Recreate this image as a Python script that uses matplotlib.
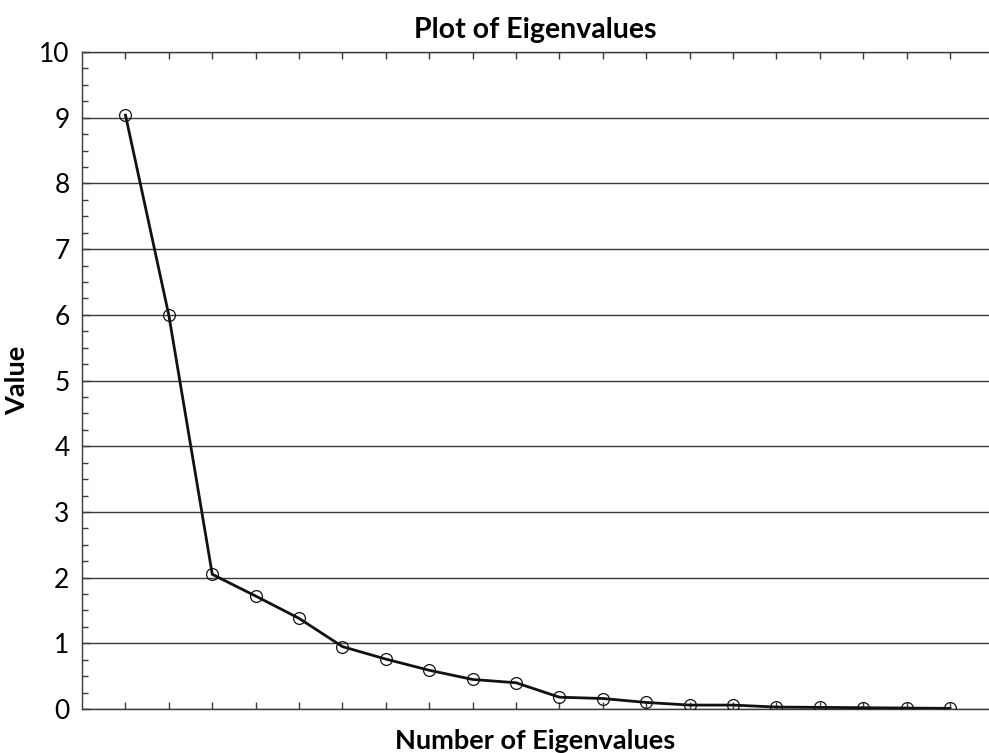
"""
Scree plot: eigenvalues in descending order
"""

import matplotlib.pyplot as plt
import numpy as np

plt.rcParams['font.family'] = ['Lato', 'DejaVu Sans']

# eigenvalue number and value
eig_num = list(range(1, 21))
eig_val = [9.04, 5.99, 2.05, 1.72, 1.38, 0.95, 0.76, 0.59, 0.45, 0.40,
           0.18, 0.16, 0.10, 0.06, 0.06, 0.03, 0.025, 0.02, 0.015, 0.01]
y_ticks = list(range(0, 11))


def main():
    fig = plt.figure(figsize=(9.89, 7.53), dpi=100)
    ax = fig.add_axes([0.083, 0.0584, 0.917, 0.8725])

    ax.grid(axis='y', color='#3a3a3a', linewidth=1.0)
    ax.set_axisbelow(True)
    ax.plot(eig_num, eig_val, color='#111111', linewidth=2.0,
            marker='o', markersize=8.5, markerfacecolor='none',
            markeredgecolor='#111111', markeredgewidth=0.9, zorder=3)

    ax.set_xlim(0, 20.9)
    ax.set_ylim(0, 10)
    ax.set_yticks(y_ticks)
    ax.set_yticks(np.arange(0, 10.01, 0.25), minor=True)
    ax.set_xticks(eig_num)
    ax.set_xticklabels([])

    for s in ['left', 'bottom', 'top']:
        ax.spines[s].set_color('#3a3a3a')
        ax.spines[s].set_linewidth(1.0)
    ax.spines['right'].set_visible(False)

    ax.tick_params(axis='y', which='major', direction='in', length=6,
                   width=1.0, color='#3a3a3a', labelsize=19, pad=9)
    ax.tick_params(axis='y', which='minor', direction='in', length=4,
                   width=1.0, color='#3a3a3a')
    ax.tick_params(axis='x', which='major', direction='in', length=5,
                   width=1.0, color='#3a3a3a', top=True)

    ax.set_title("Plot of Eigenvalues", fontsize=20.5, fontweight='bold', pad=10)
    ax.set_xlabel("Number of Eigenvalues", fontsize=19.5, fontweight='bold', labelpad=11)
    ax.set_ylabel("Value", fontsize=19.5, fontweight='bold', labelpad=7)

    fig.savefig("out.png", dpi=100)


if __name__ == "__main__":
    main()
